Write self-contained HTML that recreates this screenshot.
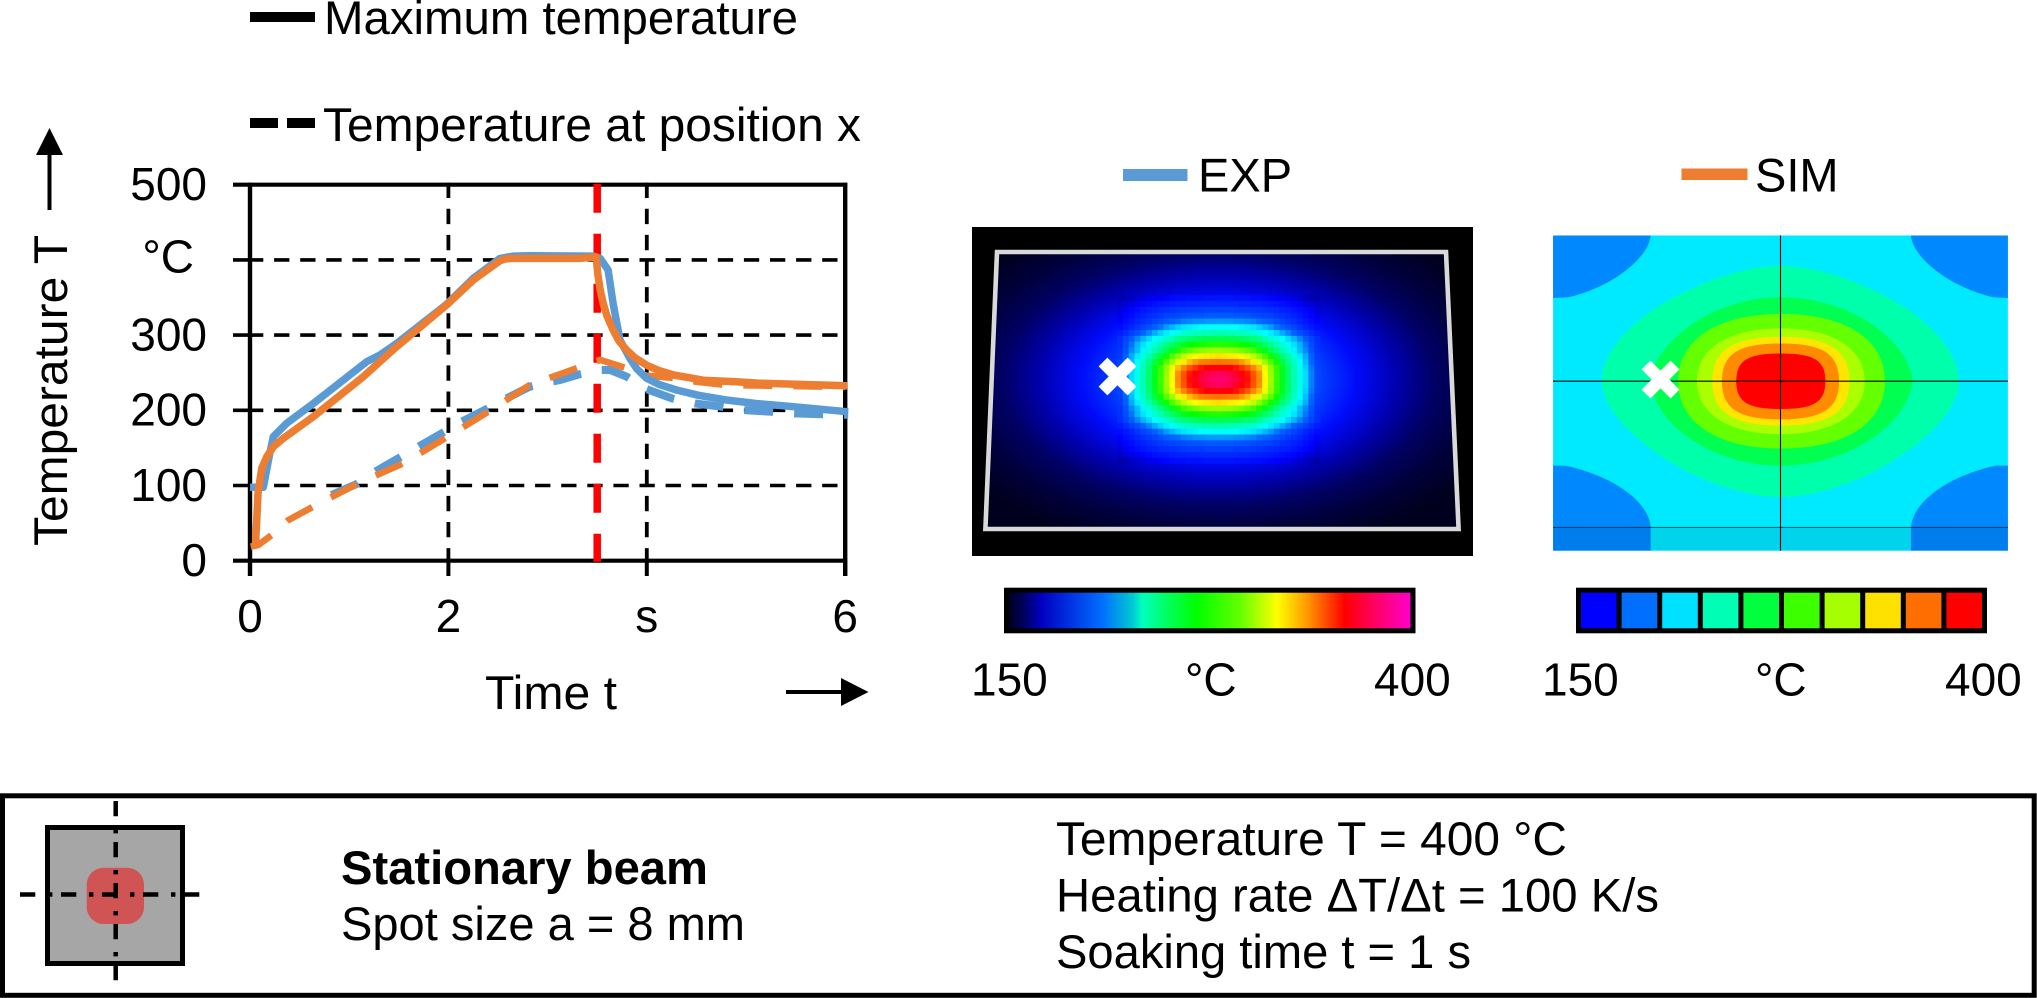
<!DOCTYPE html>
<html lang="en">
<head>
<meta charset="utf-8">
<title>Stationary beam temperature comparison</title>
<style>
html,body{margin:0;padding:0;background:#fff;}
svg{display:block;}
text{font-family:"Liberation Sans",Arial,sans-serif;fill:#000;}
</style>
</head>
<body>
<svg id="figure" xmlns="http://www.w3.org/2000/svg" width="2037" height="998" viewBox="0 0 2037 998">
  <rect x="0" y="0" width="2037" height="998" fill="#fff"/>

  <!-- chart legend -->
  <rect x="250" y="12" width="65" height="10" fill="#000"/>
  <text x="324" y="34" font-size="47.5" textLength="474" lengthAdjust="spacingAndGlyphs">Maximum temperature</text>
  <rect x="250" y="118" width="28" height="10" fill="#000"/>
  <rect x="287" y="118" width="28" height="10" fill="#000"/>
  <text x="323" y="141" font-size="47.5" textLength="538" lengthAdjust="spacingAndGlyphs">Temperature at position x</text>

  <!-- axis titles -->
  <text transform="translate(67 546) rotate(-90)" font-size="47" textLength="311" lengthAdjust="spacingAndGlyphs">Temperature T</text>
  <line x1="49.5" y1="210" x2="49.5" y2="150" stroke="#000" stroke-width="4"/>
  <polygon points="49.5,128 63,155 36,155" fill="#000"/>
  <text x="485" y="709" font-size="47" textLength="132" lengthAdjust="spacingAndGlyphs">Time t</text>
  <line x1="786" y1="692" x2="845" y2="692" stroke="#000" stroke-width="4"/>
  <polygon points="868.5,692 841,678 841,706" fill="#000"/>

  <g id="chart"></g>

  <!-- EXP panel -->
  <rect x="1123" y="169" width="64.5" height="12" fill="#5b9bd5"/>
  <text x="1198" y="191.5" font-size="47">EXP</text>
  <defs>
    <radialGradient id="expGlow" gradientUnits="userSpaceOnUse" cx="0" cy="0" r="1" gradientTransform="translate(1218.6 379.4) scale(300 175)">
      <stop offset="0" stop-color="#0050ff"/>
      <stop offset="0.34" stop-color="#0040ff"/>
      <stop offset="0.46" stop-color="#000afa"/>
      <stop offset="0.6" stop-color="#0000aa"/>
      <stop offset="0.72" stop-color="#000064"/>
      <stop offset="0.85" stop-color="#00003c"/>
      <stop offset="1" stop-color="#00001e"/>
    </radialGradient>
    <linearGradient id="expBarGrad" x1="0" x2="1" y1="0" y2="0">
      <stop offset="0" stop-color="#000018"/>
      <stop offset="0.036" stop-color="#000050"/>
      <stop offset="0.085" stop-color="#0000c0"/>
      <stop offset="0.143" stop-color="#0028dc"/>
      <stop offset="0.235" stop-color="#006eff"/>
      <stop offset="0.31" stop-color="#00c8d2"/>
      <stop offset="0.334" stop-color="#00ffbe"/>
      <stop offset="0.392" stop-color="#00ff64"/>
      <stop offset="0.467" stop-color="#00ff00"/>
      <stop offset="0.575" stop-color="#64ff00"/>
      <stop offset="0.666" stop-color="#ffff00"/>
      <stop offset="0.741" stop-color="#ff9600"/>
      <stop offset="0.832" stop-color="#ff0000"/>
      <stop offset="0.89" stop-color="#ff0050"/>
      <stop offset="1" stop-color="#ff00d2"/>
    </linearGradient>
  </defs>
  <rect x="972" y="227" width="501" height="329" fill="#000"/>
  <polygon points="997,252 1446,252 1458.6,529 985.4,529" fill="url(#expGlow)"/>
  <g id="expHeatmap"></g>
  <polygon points="997,252 1446,252 1458.6,529 985.4,529" fill="none" stroke="#d9d9d9" stroke-width="4.6"/>
  <g stroke="#fff" stroke-width="12.5">
    <line x1="1103" y1="362" x2="1132" y2="391"/>
    <line x1="1132" y1="362" x2="1103" y2="391"/>
  </g>
  <rect x="1006.5" y="590.2" width="406.5" height="40.6" fill="url(#expBarGrad)" stroke="#000" stroke-width="5"/>
  <text x="971" y="695.7" font-size="46">150</text>
  <text x="1185" y="695.7" font-size="46">°C</text>
  <text x="1374" y="695.7" font-size="46">400</text>

  <!-- SIM panel -->
  <rect x="1681.5" y="168.5" width="66" height="11.5" fill="#ed7d31"/>
  <text x="1755" y="191.5" font-size="47">SIM</text>
  <g transform="translate(1500 150) scale(0.34247 0.36996)">
    <rect x="155" y="231" width="1328" height="852" fill="#00eaff"/>
    <path d="M155,231 H440 C435,290 330,370 200,398 L155,400 Z" fill="#0088ff"/>
    <path d="M1483,231 H1200 C1205,290 1310,370 1440,398 L1483,400 Z" fill="#0088ff"/>
    <path d="M155,1083 H440 V1020 C435,950 330,880 190,853 H155 Z" fill="#0088ff"/>
    <path d="M1483,1083 H1200 V1020 C1205,950 1310,880 1448,853 H1483 Z" fill="#0088ff"/>
    <path d="M297,625 C297,540 400,440 560,375 C650,335 750,313 819,313 C890,313 990,335 1080,375 C1240,440 1340,540 1340,625 C1340,700 1240,800 1080,875 C990,915 890,938 819,938 C750,938 650,915 560,875 C400,800 297,700 297,625 Z" fill="#00ffaa"/>
    <path d="M440,625 C450,520 620,398 819,398 C1020,398 1190,510 1205,625 C1190,740 1020,853 819,853 C620,853 450,740 440,625 Z" fill="#00ff50"/>
    <path d="M520,625 C520,512 635,443 822,443 C1009,443 1124,512 1124,625 C1124,738 1009,807 822,807 C635,807 520,738 520,625 Z" fill="#64ff00"/>
    <path d="M575,625 C575,536 668,482 820,482 C972,482 1065,536 1065,625 C1065,714 972,768 820,768 C668,768 575,714 575,625 Z" fill="#aaff00"/>
    <path d="M620,625 C620,541 680,505 820,505 C960,505 1020,541 1020,625 C1020,709 960,745 820,745 C680,745 620,709 620,625 Z" fill="#ffe600"/>
    <path d="M648,625 C648,551 696,523 819,523 C942,523 990,551 990,625 C990,699 942,728 819,728 C696,728 648,699 648,625 Z" fill="#ff8c00"/>
    <path d="M690,625 C690,569 722,550 820,550 C918,550 950,569 950,625 C950,681 918,700 820,700 C722,700 690,681 690,625 Z" fill="#ff0000"/>
    <rect x="155" y="1020" width="1328" height="63" fill="#003060" fill-opacity="0.12"/>
  </g>
  <g stroke="#000" stroke-width="1.1">
    <line x1="1780.5" y1="235.5" x2="1780.5" y2="550.7"/>
    <line x1="1553" y1="381.2" x2="2008" y2="381.2"/>
    <line x1="1553" y1="527.4" x2="2008" y2="527.4" stroke-opacity="0.55"/>
  </g>
  <g stroke="#fff" stroke-width="12.5">
    <line x1="1646" y1="365" x2="1675" y2="394"/>
    <line x1="1675" y1="365" x2="1646" y2="394"/>
  </g>
  <rect x="1576" y="587.7" width="411" height="45.6" fill="#000"/>
  <g id="simBar"></g>
  <text x="1542" y="695.7" font-size="46">150</text>
  <text x="1755" y="695.7" font-size="46">°C</text>
  <text x="1945" y="695.7" font-size="46">400</text>

  <!-- bottom info box -->
  <rect x="2.5" y="795.8" width="2031.7" height="199.5" fill="#fff" stroke="#000" stroke-width="5"/>
  <rect x="47.5" y="827.5" width="135" height="136" fill="#a6a6a6" stroke="#000" stroke-width="5"/>
  <rect x="86.7" y="867.7" width="57.3" height="56.3" rx="17" ry="17" fill="#d15454"/>
  <line x1="115.7" y1="801" x2="115.7" y2="981" stroke="#000" stroke-width="4.5" stroke-dasharray="15.3 12.7 4.4 8.6"/>
  <line x1="20" y1="894.5" x2="200" y2="894.5" stroke="#000" stroke-width="4.5" stroke-dasharray="15.3 12.7 4.4 8.6"/>
  <text x="341" y="884" font-size="47" font-weight="bold" textLength="367" lengthAdjust="spacingAndGlyphs">Stationary beam</text>
  <text x="341" y="940" font-size="47" textLength="404" lengthAdjust="spacingAndGlyphs">Spot size a = 8 mm</text>
  <text x="1056" y="855" font-size="47" textLength="511" lengthAdjust="spacingAndGlyphs">Temperature T = 400 °C</text>
  <text x="1056" y="911.7" font-size="47" textLength="603" lengthAdjust="spacingAndGlyphs">Heating rate ΔT/Δt = 100 K/s</text>
  <text x="1056" y="968" font-size="47" textLength="415" lengthAdjust="spacingAndGlyphs">Soaking time t = 1 s</text>
</svg>

<script>
// ---- chart data ----
var yTickValues = [0, 100, 200, 300, 400, 500];
var yTickLabels = ['0', '100', '200', '300', '°C', '500'];
var xTickValues = [0, 2, 4, 6];
var xTickLabels = ['0', '2', 's', '6'];
var holdEndTime = 3.5;

var simMaxTime = [0.034,0.054,0.067,0.081,0.118,0.168,0.235,0.336,0.638,1.142,1.478,1.982,2.251,2.52,2.58,2.654,2.82,3.125,3.33,3.49,3.505,3.53,3.56,3.6,3.66,3.72,3.797,3.88,3.998,4.12,4.27,4.57,4.9,5.14,6.02];
var simMaxTemp = [18.7,20.9,49.7,89.6,122.8,138,151.6,162.8,191.5,244.7,284.6,340,373.3,399,401.5,402,402,402,402,404,382,360,342,325,306.8,292,280,270,260,253,247,240,238,236,232.7];

var expMaxTime = [0,0.134,0.2,0.235,0.37,0.638,1.176,1.31,1.478,1.982,2.251,2.52,2.654,2.82,3.46,3.53,3.61,3.66,3.73,3.83,3.9,3.998,4.13,4.3,4.52,4.8,5.1,5.48,6.03];
var expMaxTemp = [97.6,97.6,142.8,165,182.7,209,264.6,273.5,289,341,375.5,402,405,405.5,405,402,386.6,342,293.5,269,255,242.5,234,227,220,213.7,209,204.8,198];

var simPosTime = [0.007,0.084,0.218,0.386,0.638,1.092,1.545,1.982,2.4,2.82,3.29,3.53,3.8,3.998,4.28,4.5,4.8,6.0];
var simPosTemp = [18.7,20.9,34,54,72,103,129.5,164,198,233.6,255.8,267,255.8,246,243,238,233.6,231];

var expPosTime = [0.823,1.075,1.243,1.512,1.697,1.932,2.134,2.4,2.588,2.82,3.125,3.327,3.545,3.63,3.797,3.998,4.25,4.49,4.75,4.97,5.26,5.48,5.76,6.03];
var expPosTemp = [87.4,102,117,137.5,151.6,169.4,184.8,202.7,216,231.4,240.3,248,253.6,253.6,244.7,228,216,209,204.8,200.4,198,196,194.7,194];

// ---- EXP heatmap data: one quadrant of the measured field in °C,
// rows from the centre outward, columns from the centre outward ----
var expQuadrant = [
[378,376,372,368,362,356,345,335,318,300,280,262,248,235,226,218,208,198],
[372,371,369,364,359,354,344,334,317,299,279,262,248,235,226,218,208,198],
[360,359,358,355,350,344,336,327,314,297,278,261,247,234,225,217,207,197],
[340,339,338,337,333,327,320,312,300,286,270,255,243,232,223,215,205,196],
[322,321,320,319,316,311,305,296,283,270,258,247,236,228,220,213,204,195],
[300,299,298,296,292,287,281,272,262,252,243,235,228,221,215,209,201,193],
[275,274,273,271,269,266,261,255,249,243,235,229,224,219,214,207,199,192],
[254,254,253,252,250,248,246,242,235,230,226,222,218,214,209,203,197,191],
[235,235,234,234,233,232,230,226,223,220,217,213,209,205,200,196,191,187],
[223,223,222,222,221,220,219,217,214,211,207,204,200,197,193,189,186,183],
[211,211,211,210,210,209,208,206,205,203,200,197,194,192,189,186,183,180],
[202,202,202,201,201,200,199,198,197,196,194,192,190,188,186,183,181,178],
[196,196,196,195,195,195,194,193,192,191,190,188,187,185,183,181,179,176],
[190,190,190,190,189,189,188,188,187,186,185,184,182,181,179,177,176,174],
[185,185,185,184,184,184,183,183,182,181,180,179,178,176,175,174,172,171]
];
var heatTemps  = [150,165,180,205,222,240,267,295,317,335,358,372,400];
var heatRed    = [0,0,0,0,0,0,0,130,255,255,255,255,255];
var heatGreen  = [0,0,0,100,255,255,255,255,255,140,0,0,0];
var heatBlue   = [0,110,255,255,255,150,0,0,0,0,0,90,210];

// ---- SIM colorbar data ----
var simBarColors = ['#0000ff','#006eff','#00e1ff','#00ffb4','#00ff3c','#3cff00','#a5ff00','#ffe100','#ff6e00','#ff0000'];

var NS = 'http://www.w3.org/2000/svg';
function xScale(t) { return 250 + t * 99.2; }
function yScale(v) { return 560.7 - v * 0.752; }

var chart = document.getElementById('chart');

function addLine(x1, y1, x2, y2, w, dash, color, name) {
  var el = document.createElementNS(NS, 'line');
  el.setAttribute('x1', x1);
  el.setAttribute('y1', y1);
  el.setAttribute('x2', x2);
  el.setAttribute('y2', y2);
  el.setAttribute('stroke', color);
  el.setAttribute('stroke-width', w);
  if (dash) el.setAttribute('stroke-dasharray', dash);
  
  
  chart.appendChild(el);
}

function addText(str, x, y, anchor, name) {
  var el = document.createElementNS(NS, 'text');
  el.setAttribute('x', x);
  el.setAttribute('y', y);
  el.setAttribute('font-size', '46');
  el.setAttribute('text-anchor', anchor);
  
  
  el.textContent = str;
  chart.appendChild(el);
}

function addSeries(times, temps, color, width, dash, offset, name) {
  var d = '';
  for (var i = 0; i < times.length; i++) {
    d += (i ? 'L' : 'M') + xScale(times[i]).toFixed(1) + ',' + yScale(temps[i]).toFixed(1);
  }
  var el = document.createElementNS(NS, 'path');
  el.setAttribute('d', d);
  el.setAttribute('fill', 'none');
  el.setAttribute('stroke', color);
  el.setAttribute('stroke-width', width);
  el.setAttribute('stroke-linejoin', 'round');
  if (dash) {
    el.setAttribute('stroke-dasharray', dash);
    el.setAttribute('stroke-dashoffset', offset);
  }
  
  
  chart.appendChild(el);
}

var xLeft = xScale(0), xRight = xScale(6), yBottom = yScale(0), yTop = yScale(500);

yTickValues.forEach(function (v, i) {
  var y = yScale(v);
  if (v > 0 && v < 500) {
    addLine(233, y, 250, y, 3.6, null, '#000', 'y-tick-' + v);
    addLine(248, y, 838, y, 3.6, '15.3 10.8', '#000', 'y-gridline-' + v);
  }
  var isUnit = yTickLabels[i] === '°C';
  addText(yTickLabels[i], isUnit ? 194 : 207, y + (isUnit ? 12.8 : 15.3), 'end', 'y-tick-label-' + v);
});
xTickValues.forEach(function (t, i) {
  var x = xScale(t);
  if (t > 0 && t < 6) {
    addLine(x, yTop - 2, x, yBottom, 3.8, '15.3 10.8', '#000', 'x-gridline-' + t);
  }
  addLine(x, yBottom, x, 576, 4, null, '#000', 'x-tick-' + t);
  addText(xTickLabels[i], x, 632, 'middle', 'x-tick-label-' + t);
});
addLine(233, yTop, xRight + 2, yTop, 4.2, null, '#000', 'plot-top-border');
addLine(233, yBottom, xRight + 2, yBottom, 4.2, null, '#000', 'x-axis-line');
addLine(xLeft, yTop - 2, xLeft, 576, 4.4, null, '#000', 'y-axis-line');
addLine(xRight, yTop - 2, xRight, 576, 4.4, null, '#000', 'plot-right-border');

addLine(xScale(holdEndTime), yTop - 1, xScale(holdEndTime), yBottom + 1, 7.5, '29 21', '#ff0000', 'end-of-soak-marker');

addSeries(expPosTime, expPosTemp, '#5b9bd5', 8, '29 21', 0, 'exp-position-temperature');
addSeries(simPosTime, simPosTemp, '#ed7d31', 6.6, '29 21', 5, 'sim-position-temperature');
addSeries(expMaxTime, expMaxTemp, '#5b9bd5', 7.5, null, 0, 'exp-maximum-temperature');
addSeries(simMaxTime, simMaxTemp, '#ed7d31', 7.5, null, 0, 'sim-maximum-temperature');

// ---- EXP heatmap ----
function heatColor(v) {
  var i = 0;
  while (i < heatTemps.length - 2 && v > heatTemps[i + 1]) i++;
  var f = Math.max(0, Math.min(1, (v - heatTemps[i]) / (heatTemps[i + 1] - heatTemps[i])));
  var r = Math.round(heatRed[i] + f * (heatRed[i + 1] - heatRed[i]));
  var g = Math.round(heatGreen[i] + f * (heatGreen[i + 1] - heatGreen[i]));
  var b = Math.round(heatBlue[i] + f * (heatBlue[i + 1] - heatBlue[i]));
  return 'rgb(' + r + ',' + g + ',' + b + ')';
}
var heatGroup = document.getElementById('expHeatmap');
var cellSize = 5.8, heatCx = 1218.6, heatCy = 379.4;
var rowCount = expQuadrant.length;
for (var row = -(rowCount - 1); row < rowCount; row++) {
  var rowValues = expQuadrant[Math.abs(row)];
  for (var col = -(rowValues.length - 1); col < rowValues.length; col++) {
    var cell = document.createElementNS(NS, 'rect');
    cell.setAttribute('x', (heatCx + (col - 0.5) * cellSize).toFixed(1));
    cell.setAttribute('y', (heatCy + (row - 0.5) * cellSize).toFixed(1));
    cell.setAttribute('width', cellSize + 0.3);
    cell.setAttribute('height', cellSize + 0.3);
    cell.setAttribute('fill', heatColor(rowValues[Math.abs(col)]));
    
    
    heatGroup.appendChild(cell);
  }
}

// ---- SIM colorbar ----
var simBar = document.getElementById('simBar');
simBarColors.forEach(function (c, i) {
  var seg = document.createElementNS(NS, 'rect');
  seg.setAttribute('x', 1581 + i * 40.6);
  seg.setAttribute('y', 592.7);
  seg.setAttribute('width', 35.6);
  seg.setAttribute('height', 35.6);
  seg.setAttribute('fill', c);
  
  
  simBar.appendChild(seg);
});
</script>
</body>
</html>
